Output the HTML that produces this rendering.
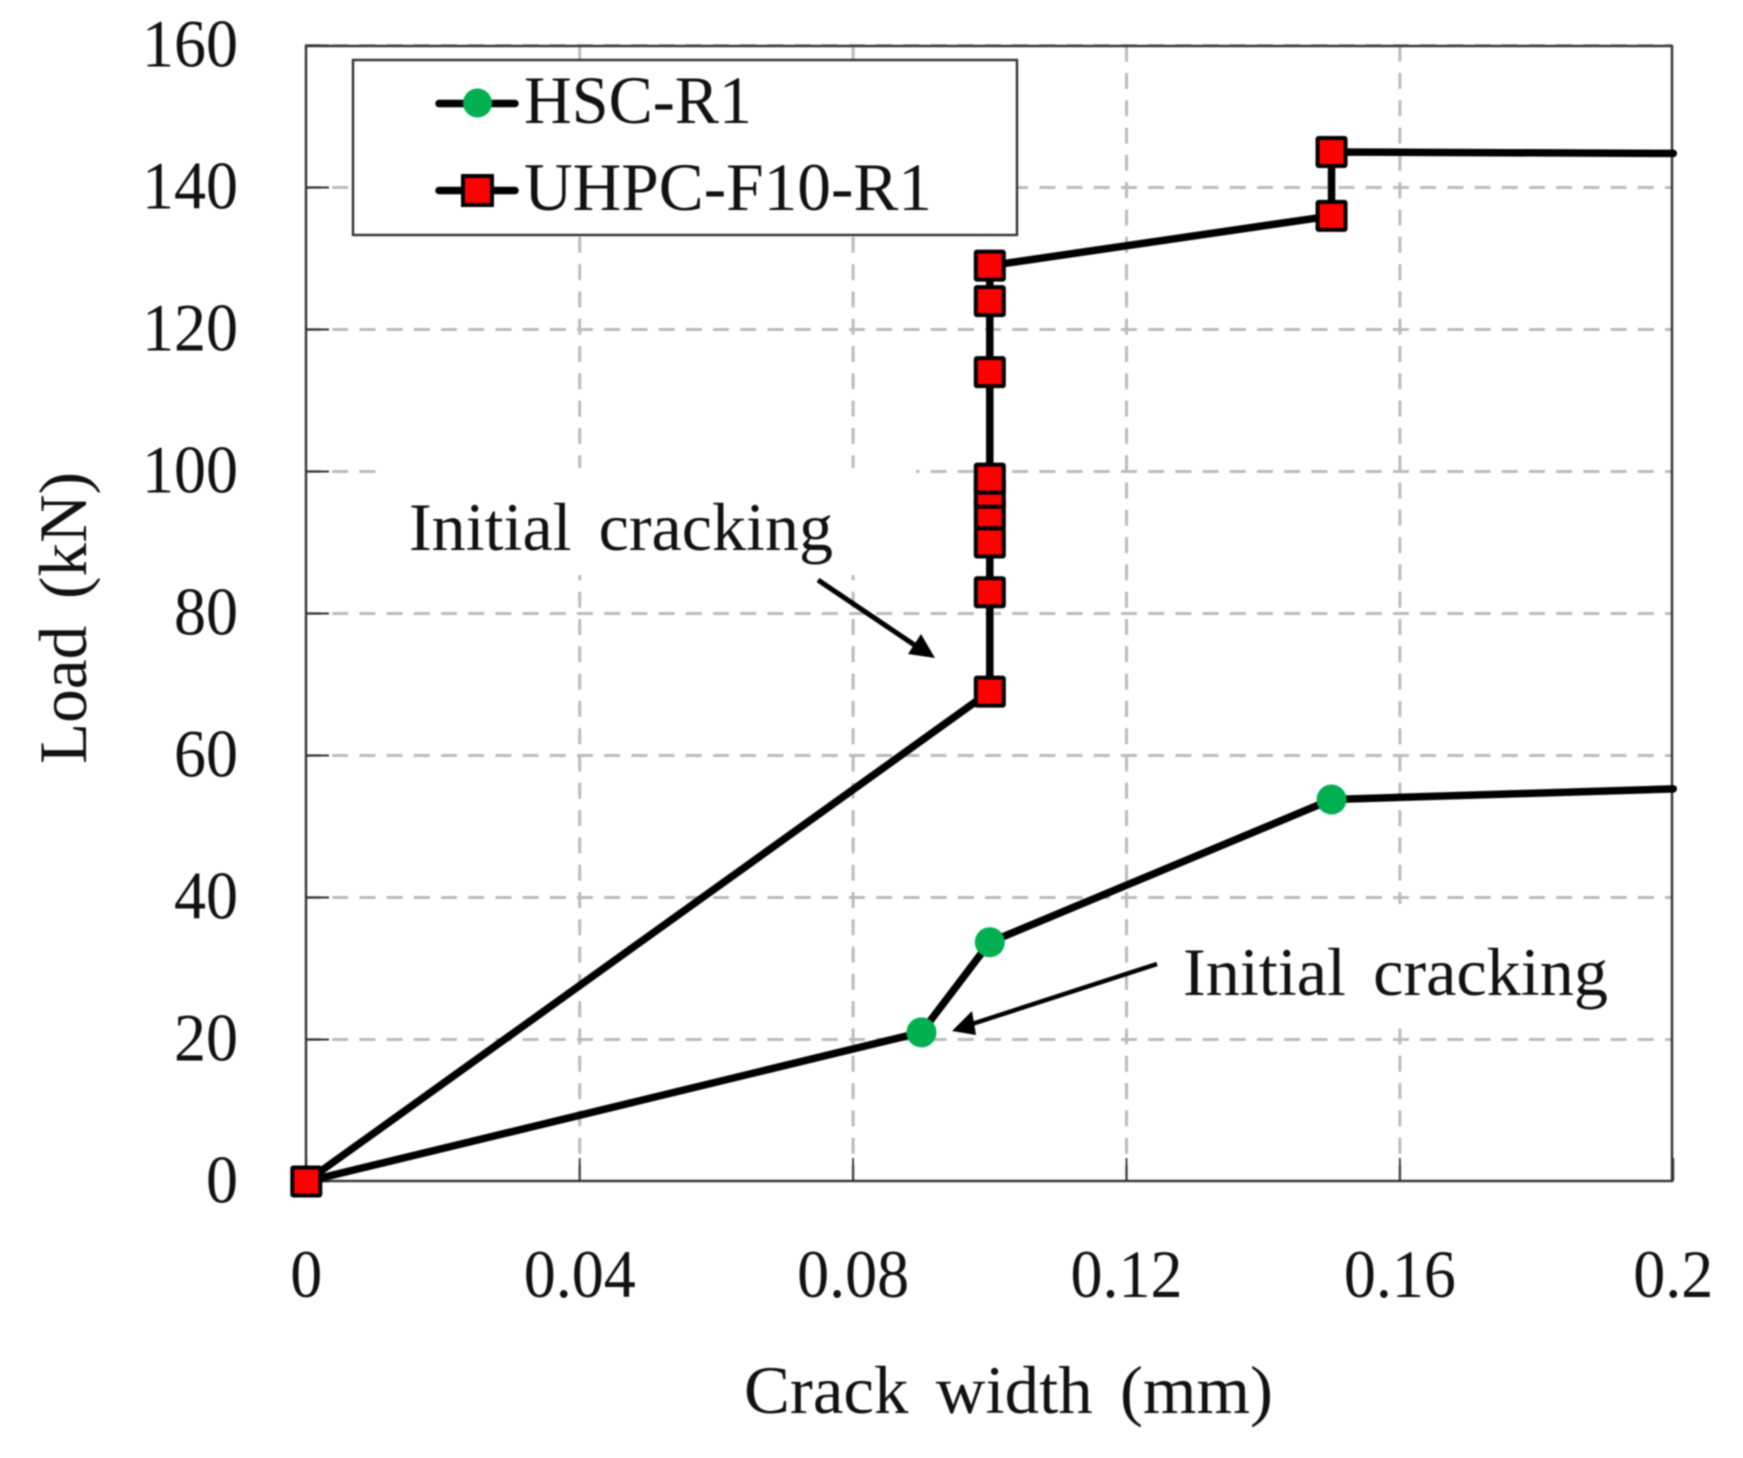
<!DOCTYPE html>
<html>
<head>
<meta charset="utf-8">
<title>Load vs crack width</title>
<style>
html,body{margin:0;padding:0;background:#fff;width:1743px;height:1458px;overflow:hidden}
svg{display:block;filter:blur(0.8px)}
text{font-family:"Liberation Serif",serif;font-size:68px;fill:#111}
.spaced{word-spacing:10px}
</style>
</head>
<body>
<svg id="chart" xmlns="http://www.w3.org/2000/svg" width="1743" height="1458" viewBox="0 0 1743 1458">
  <rect x="0" y="0" width="1743" height="1458" fill="#fff"/>
  <g id="grid"></g>
  <rect x="376" y="468" width="540" height="107" fill="#fff"/>
  <rect x="1170" y="904" width="495" height="123" fill="#fff"/>
  <g id="ticks"></g>
  <rect x="306" y="46" width="1366" height="1135" fill="none" stroke="#333" stroke-width="2.4"/>
  <g id="series"></g>

  <g>
    <rect x="353" y="60" width="664" height="175" fill="#fff" stroke="#333" stroke-width="2.4"/>
    <g>
      <line x1="439" y1="103.5" x2="515" y2="103.5" stroke="#000" stroke-width="7.5" stroke-linecap="round"/>
      <circle cx="477.5" cy="103" r="14.5" fill="#00b050"/>
      <text x="524" y="123" textLength="228" lengthAdjust="spacingAndGlyphs">HSC-R1</text>
    </g>
    <g>
      <line x1="439" y1="190.5" x2="515" y2="190.5" stroke="#000" stroke-width="7.5" stroke-linecap="round"/>
      <rect x="463" y="176" width="29" height="29" fill="#f00" stroke="#000" stroke-width="4"/>
      <text x="524" y="210" textLength="408" lengthAdjust="spacingAndGlyphs">UHPC-F10-R1</text>
    </g>
  </g>

  <g>
    <text class="spaced" x="409" y="550" textLength="424" lengthAdjust="spacingAndGlyphs">Initial cracking</text>
    <line x1="818" y1="580" x2="916" y2="646" stroke="#000" stroke-width="5"/>
    <polygon points="935,658 908,654 921,634" fill="#000"/>
  </g>
  <g>
    <text class="spaced" x="1183" y="995" textLength="425" lengthAdjust="spacingAndGlyphs">Initial cracking</text>
    <line x1="1157" y1="964" x2="972" y2="1024" stroke="#000" stroke-width="4.5"/>
    <polygon points="952,1031 976,1035 972,1011" fill="#000"/>
  </g>

  <text class="spaced" x="744" y="1413" textLength="529" lengthAdjust="spacingAndGlyphs">Crack width (mm)</text>
  <text class="spaced" transform="translate(86,764) rotate(-90)" x="0" y="0" textLength="292" lengthAdjust="spacingAndGlyphs">Load (kN)</text>
</svg>
<script>
var xTicks = [0, 0.04, 0.08, 0.12, 0.16, 0.2];
var xTickLabels = ["0", "0.04", "0.08", "0.12", "0.16", "0.2"];
var yTicks = [0, 20, 40, 60, 80, 100, 120, 140, 160];
var yTickLabels = ["0", "20", "40", "60", "80", "100", "120", "140", "160"];
var hscX = [0, 0.09, 0.1, 0.15];
var hscY = [0, 21, 33.7, 53.8];
var hscEndX = [0.2];
var hscEndY = [55.3];
var uhpcX = [0, 0.1, 0.1, 0.1, 0.1, 0.1, 0.1, 0.1, 0.1, 0.1, 0.15, 0.15];
var uhpcY = [0, 69, 83, 90, 94, 97, 99, 114, 124, 129, 136, 145];
var uhpcEndX = [0.2];
var uhpcEndY = [144.8];

var NS = 'http://www.w3.org/2000/svg';
function xScale(v) { return 306.3 + v / 0.2 * 1367; }
function yScale(v) { return 1181.5 - v / 160 * 1136; }
function make(tag, attrs, parent) {
  var el = document.createElementNS(NS, tag);
  for (var k in attrs) { el.setAttribute(k, attrs[k]); }
  parent.appendChild(el);
  return el;
}
function labelWidth(s) { return (s.replace('.', '').length) * 32 + (s.indexOf('.') >= 0 ? 16 : 0); }

var grid = document.getElementById('grid');
var ticks = document.getElementById('ticks');

yTicks.forEach(function (v, i) {
  var y = yScale(v);
  if (v > 0) {
    var g = make('line', { x1: 305, y1: y, x2: 1672, y2: y, stroke: '#bbb', 'stroke-width': 3, 'stroke-dasharray': '16 11.2' }, grid);
    
    
  }
  var t = make('line', { x1: 306, y1: y, x2: 329, y2: y, stroke: '#333', 'stroke-width': 2 }, ticks);
  
  
  var s = yTickLabels[i];
  var w = labelWidth(s);
  var l = make('text', { x: 238 - w, y: y + 21, textLength: w, lengthAdjust: 'spacingAndGlyphs' }, ticks);
  l.textContent = s;
  
  
});

xTicks.forEach(function (v, i) {
  var x = xScale(v);
  if (v > 0 && v < 0.2) {
    var g = make('line', { x1: x, y1: 1181, x2: x, y2: 46, stroke: '#bbb', 'stroke-width': 3, 'stroke-dasharray': '16 11.3' }, grid);
    
    
  }
  var t = make('line', { x1: x, y1: 1181, x2: x, y2: 1158, stroke: '#333', 'stroke-width': 1.8 }, ticks);
  
  
  var s = xTickLabels[i];
  var w = labelWidth(s);
  var l = make('text', { x: x - w / 2, y: 1297, textLength: w, lengthAdjust: 'spacingAndGlyphs' }, ticks);
  l.textContent = s;
  
  
});

function pointsOf(xs, ys, ex, ey) {
  return xs.concat(ex).map(function (v, i) {
    return xScale(v) + ',' + yScale(ys.concat(ey)[i]);
  }).join(' ');
}

var series = document.getElementById('series');

var hscLine = make('polyline', { points: pointsOf(hscX, hscY, hscEndX, hscEndY), fill: 'none', stroke: '#000', 'stroke-width': 7.5, 'stroke-linejoin': 'round', 'stroke-linecap': 'round' }, series);



hscX.forEach(function (v, i) {
  if (i === 0) { return; }
  var c = make('circle', { cx: xScale(v), cy: yScale(hscY[i]), r: 15, fill: '#00b050' }, series);
  
  
});

var uhpcLine = make('polyline', { points: pointsOf(uhpcX, uhpcY, uhpcEndX, uhpcEndY), fill: 'none', stroke: '#000', 'stroke-width': 7.5, 'stroke-linejoin': 'round', 'stroke-linecap': 'round' }, series);



uhpcX.forEach(function (v, i) {
  var r = make('rect', { x: xScale(v) - 14, y: yScale(uhpcY[i]) - 14, width: 28, height: 28, fill: '#f00', stroke: '#000', 'stroke-width': 4, rx: 1 }, series);
  
  
});
</script>
</body>
</html>
